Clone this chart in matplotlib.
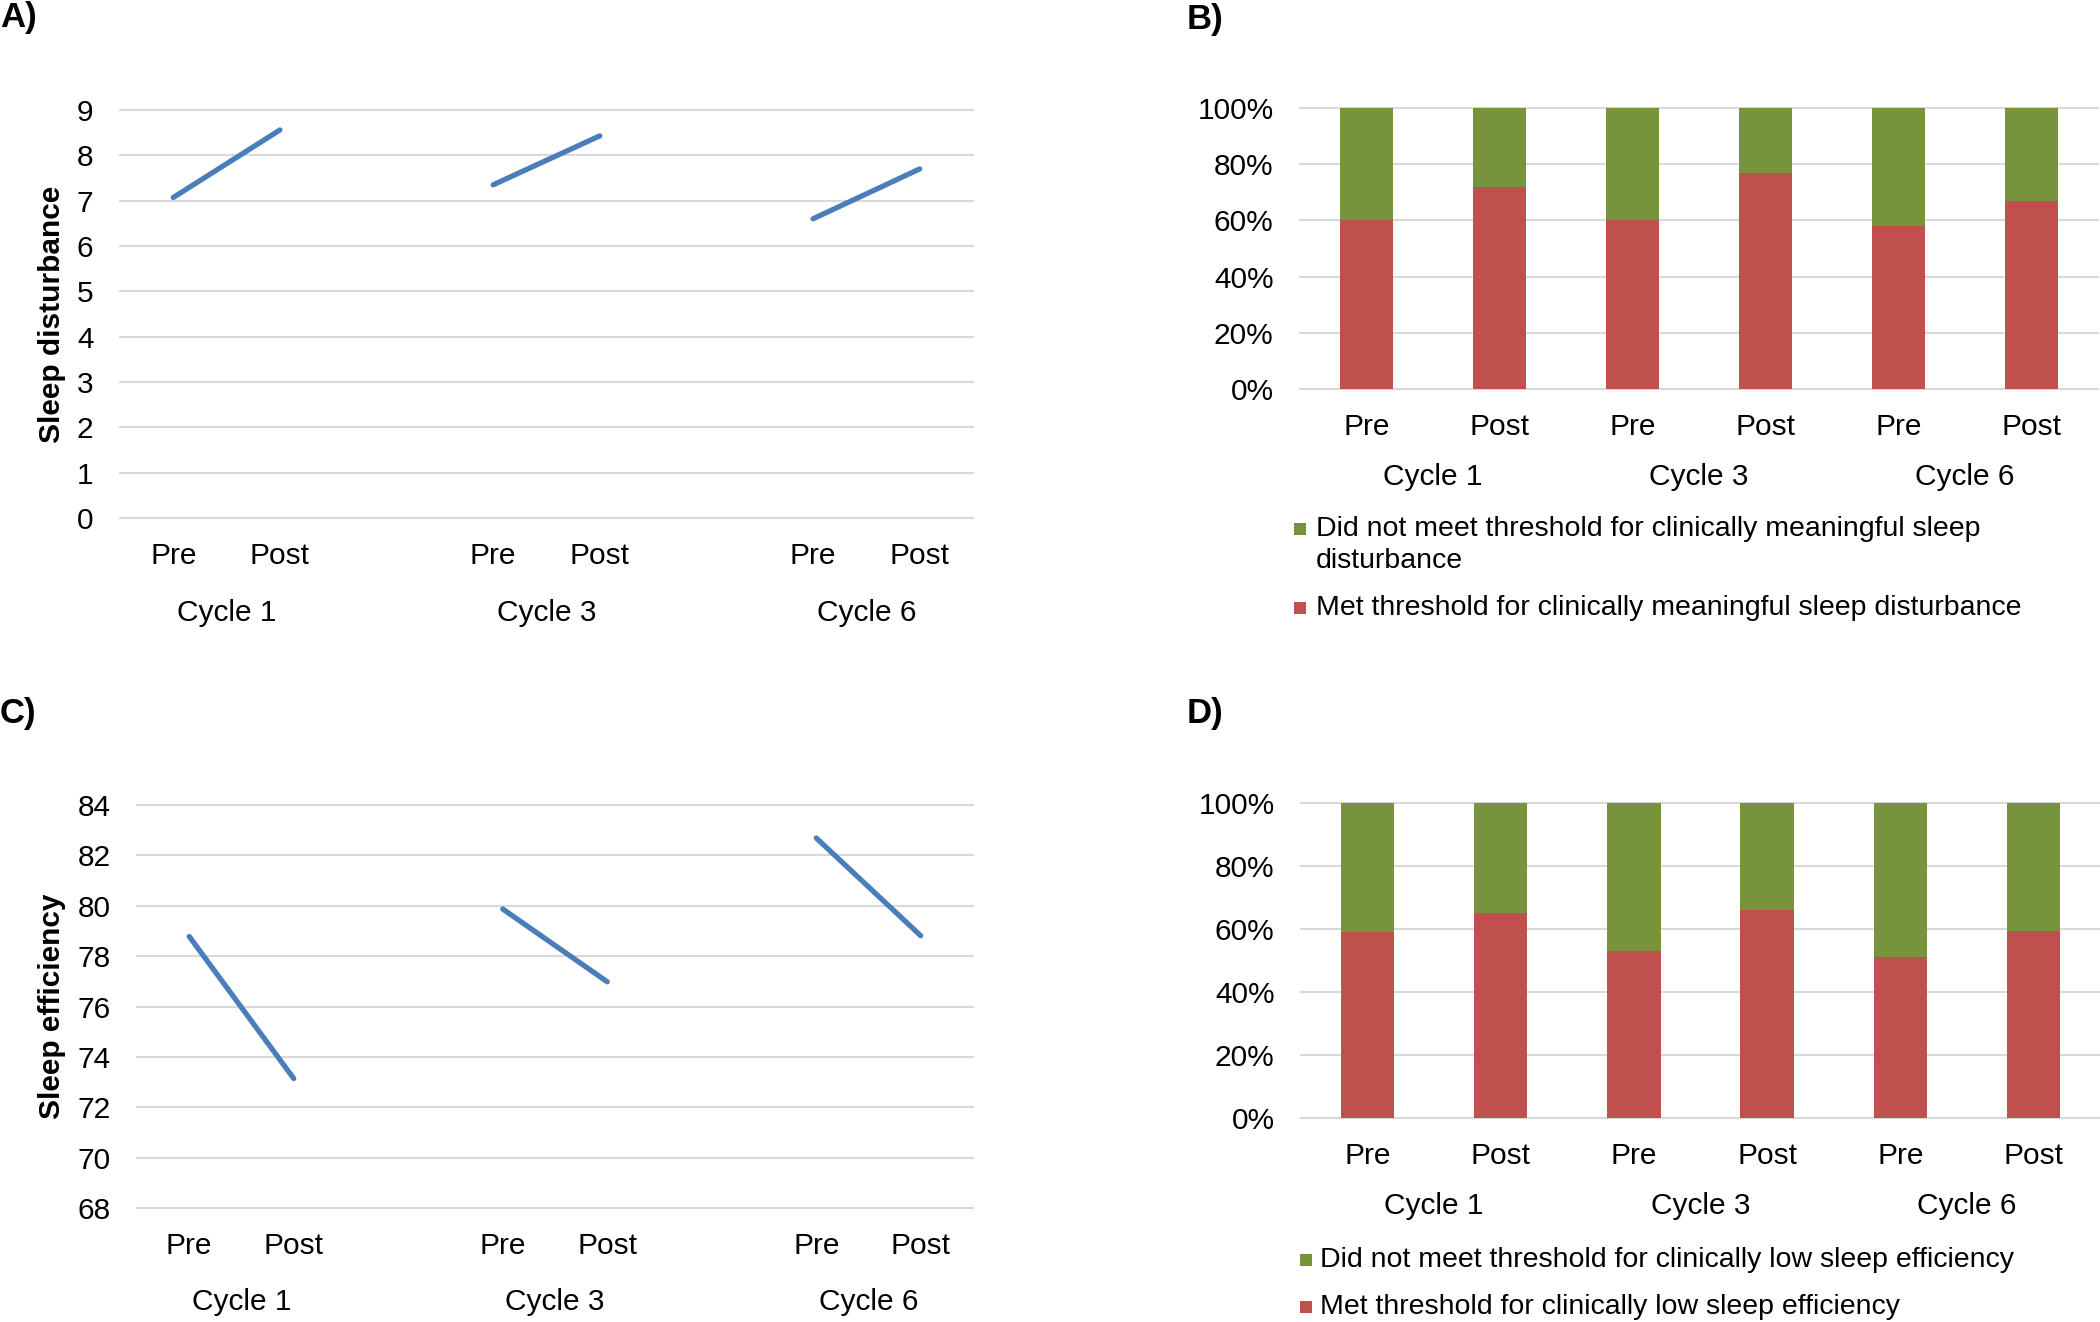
import matplotlib
matplotlib.use('Agg')
import matplotlib.pyplot as plt
from matplotlib.patches import Rectangle

plt.rcParams['font.family'] = ['Liberation Sans', 'DejaVu Sans']

# values
cycles = ['Cycle 1', 'Cycle 3', 'Cycle 6']
timepoints = ['Pre', 'Post']
disturbance_pre = [7.07, 7.35, 6.60]
disturbance_post = [8.56, 8.43, 7.70]
efficiency_pre = [78.78, 79.87, 82.69]
efficiency_post = [73.14, 76.98, 78.81]
met_disturbance = [60, 72, 60, 77, 58, 67]
met_efficiency = [59, 65, 53, 66, 51, 59.5]

legend_b = ['Did not meet threshold for clinically meaningful sleep\ndisturbance',
            'Met threshold for clinically meaningful sleep disturbance']
legend_d = ['Did not meet threshold for clinically low sleep efficiency',
            'Met threshold for clinically low sleep efficiency']

BLUE = '#4A7EBB'
RED = '#C0504D'
GREEN = '#77933C'
GRID = '#D9D9D9'
FS = 21.5

W, H = 2100, 1322
fig = plt.figure(figsize=(W / 100, H / 100), dpi=100)


def box(left, top, right, bottom):
    return [left / W, 1 - bottom / H, (right - left) / W, (bottom - top) / H]


def style(ax, yticks, ylabels, tick_pos, tick_labels, cycle_off):
    for s in ax.spines.values():
        s.set_visible(False)
    ax.set_yticks(yticks)
    ax.set_yticklabels(ylabels)
    ax.set_xticks(tick_pos)
    ax.set_xticklabels(tick_labels)
    ax.tick_params(axis='both', length=0, labelsize=FS)
    ax.tick_params(axis='y', pad=19)
    ax.tick_params(axis='x', pad=17.5)
    ax.yaxis.grid(True, color=GRID, lw=1.5)
    ax.set_axisbelow(True)
    for gl in ax.get_ygridlines():
        gl.set_clip_on(False)
    for i, c in enumerate(cycles):
        centre = (tick_pos[2 * i] + tick_pos[2 * i + 1]) / 2
        ax.annotate(c, xy=(centre, 0), xycoords=('data', 'axes fraction'),
                    xytext=(0, -cycle_off), textcoords='offset pixels',
                    ha='center', va='center', fontsize=FS)


# line panels: 8 category slots, gap between cycles
line_x = []
for i in range(len(cycles)):
    line_x += [3 * i, 3 * i + 1]
line_labels = timepoints * len(cycles)

axA = fig.add_axes(box(120, 110, 973, 518))
for i in range(len(cycles)):
    axA.plot(line_x[2 * i:2 * i + 2], [disturbance_pre[i], disturbance_post[i]],
             color=BLUE, lw=3.8, solid_capstyle='round')
axA.set_xlim(-0.5, 7.5)
axA.set_ylim(0, 9)
style(axA, range(0, 10), [str(v) for v in range(0, 10)], line_x, line_labels, 95)
axA.set_ylabel('Sleep disturbance', fontsize=FS, fontweight='bold')
axA.yaxis.set_label_coords(-0.063, 0.5)

axC = fig.add_axes(box(137, 805, 973, 1208))
for i in range(len(cycles)):
    axC.plot(line_x[2 * i:2 * i + 2], [efficiency_pre[i], efficiency_post[i]],
             color=BLUE, lw=3.8, solid_capstyle='round')
axC.set_xlim(-0.5, 7.5)
axC.set_ylim(68, 84)
style(axC, range(68, 85, 2), [str(v) for v in range(68, 85, 2)], line_x, line_labels, 94)
axC.set_ylabel('Sleep efficiency', fontsize=FS, fontweight='bold')
axC.yaxis.set_label_coords(-0.085, 0.5)

# stacked percentage bar panels
bar_x = list(range(len(cycles) * 2))
pct_ticks = list(range(0, 101, 20))
pct_labels = [f'{v}%' for v in pct_ticks]


def stacked(ax, met):
    not_met = [100 - m for m in met]
    ax.bar(bar_x, met, width=0.4, color=RED)
    ax.bar(bar_x, not_met, width=0.4, bottom=met, color=GREEN)
    ax.set_xlim(-0.5, 5.5)
    ax.set_ylim(0, 100)


axB = fig.add_axes(box(1300, 108, 2098, 389))
stacked(axB, met_disturbance)
style(axB, pct_ticks, pct_labels, bar_x, line_labels, 88)

axD = fig.add_axes(box(1301, 803, 2100, 1118))
stacked(axD, met_efficiency)
style(axD, pct_ticks, pct_labels, bar_x, line_labels, 88)


def fig_legend(x_sq, x_txt, rows, labels, colors):
    for y, lab, col in zip(rows, labels, colors):
        fig.add_artist(Rectangle(((x_sq) / W, 1 - (y + 6) / H), 12 / W, 12 / H,
                                 transform=fig.transFigure, color=col, lw=0))
        first, *rest = lab.split('\n')
        fig.text(x_txt / W, 1 - y / H, first, fontsize=20.5, va='center', ha='left')
        for k, extra in enumerate(rest):
            fig.text(x_txt / W, 1 - (y + 32 * (k + 1)) / H, extra,
                     fontsize=20.5, va='center', ha='left')


fig_legend(1294, 1316, [529, 608], legend_b, [GREEN, RED])
fig_legend(1300, 1320, [1260, 1307], legend_d, [GREEN, RED])

# panel letters
for lab, x, y in [('A)', 0, 17), ('B)', 1187, 19), ('C)', 0, 713), ('D)', 1187, 713)]:
    fig.text(x / W, 1 - y / H, lab, fontsize=25, fontweight='bold', va='center', ha='left')

fig.savefig('out.png', dpi=100)
